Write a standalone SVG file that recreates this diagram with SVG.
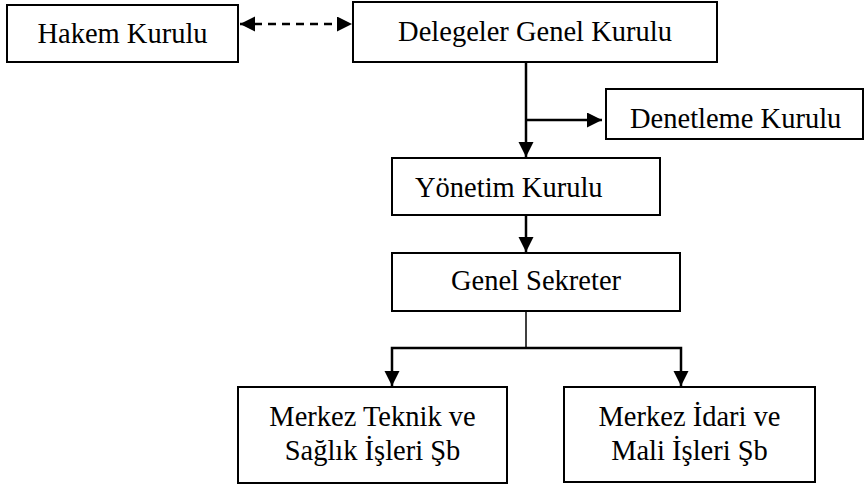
<svg xmlns="http://www.w3.org/2000/svg" width="865" height="486" viewBox="0 0 865 486">
<style>
.box{fill:#fff;stroke:#000;stroke-width:2}
.t{font-family:"Liberation Serif","Times New Roman",serif;font-size:28.5px;fill:#000}
.c{text-anchor:middle}
.ln{fill:none;stroke:#000;stroke-width:2.5}
.thin{fill:none;stroke:#000;stroke-width:1.5}
.dash{stroke-dasharray:8 6}
</style>
<defs>
<marker id="ah" markerUnits="userSpaceOnUse" markerWidth="16" markerHeight="16" refX="15" refY="7.5" orient="auto-start-reverse" viewBox="0 0 16 16">
<path d="M0,0 L15,7.5 L0,15 z" fill="#000"/>
</marker>
</defs>
<rect width="865" height="486" fill="#fff"/>
<g id="connectors">
<line class="ln dash" x1="240" y1="24" x2="352" y2="24" marker-start="url(#ah)" marker-end="url(#ah)"/>
<line class="ln" x1="526" y1="62" x2="526" y2="157" marker-end="url(#ah)"/>
<line class="ln" x1="526" y1="120" x2="602" y2="120" marker-end="url(#ah)"/>
<line class="ln" x1="526" y1="215" x2="526" y2="252" marker-end="url(#ah)"/>
<line class="thin" x1="526" y1="311" x2="526" y2="348"/>
<polyline class="ln" points="392,386 392,348 681,348 681,386" marker-start="url(#ah)" marker-end="url(#ah)"/>
</g>
<g id="hakem">
<rect class="box" x="7" y="5" width="231" height="57"/>
<text class="t c" x="122.5" y="43">Hakem Kurulu</text>
</g>
<g id="delegeler">
<rect class="box" x="353" y="2" width="364" height="60"/>
<text class="t c" x="535" y="41">Delegeler Genel Kurulu</text>
</g>
<g id="denetleme">
<rect class="box" x="606" y="89" width="257" height="50"/>
<text class="t" x="630" y="128">Denetleme Kurulu</text>
</g>
<g id="yonetim">
<rect class="box" x="392" y="158" width="268" height="57"/>
<text class="t" x="415" y="197">Yönetim Kurulu</text>
</g>
<g id="genel">
<rect class="box" x="392" y="253" width="288" height="58"/>
<text class="t c" x="536" y="290">Genel Sekreter</text>
</g>
<g id="teknik">
<rect class="box" x="238" y="387" width="269" height="96"/>
<text class="t c" x="372.5" y="426">Merkez Teknik ve</text>
<text class="t c" x="372.5" y="460">Sağlık İşleri Şb</text>
</g>
<g id="idari">
<rect class="box" x="564" y="387" width="251" height="95"/>
<text class="t c" x="689.5" y="426">Merkez İdari ve</text>
<text class="t c" x="689.5" y="460">Mali İşleri Şb</text>
</g>
</svg>
